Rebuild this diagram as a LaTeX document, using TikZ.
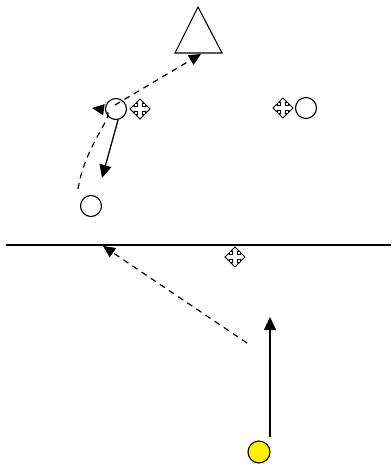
\documentclass[tikz,border=0pt]{standalone}
\usetikzlibrary{arrows.meta}
\tikzset{
  player/.style={draw, circle, line width=1.1pt, minimum size=21pt, inner sep=0pt, fill=white},
  ball/.style={draw, circle, line width=1.1pt, minimum size=22pt, inner sep=0pt, fill=yellow},
  run/.style={line width=1.3pt, -{Triangle[length=13pt,width=12pt]}},
  pass/.style={line width=1.2pt, dash pattern=on 6pt off 5pt, -{Triangle[length=12pt,width=11pt]}},
  moveicon/.pic={
    \draw[line width=0.9pt, fill=white, line join=miter, scale=1.25]
      (0,-8) -- (3.5,-4.5) -- (2,-4.5) -- (2,-2) -- (4.5,-2) -- (4.5,-3.5) -- (8,0)
      -- (4.5,3.5) -- (4.5,2) -- (2,2) -- (2,4.5) -- (3.5,4.5) -- (0,8)
      -- (-3.5,4.5) -- (-2,4.5) -- (-2,2) -- (-4.5,2) -- (-4.5,3.5) -- (-8,0)
      -- (-4.5,-3.5) -- (-4.5,-2) -- (-2,-2) -- (-2,-4.5) -- (-3.5,-4.5) -- cycle;
  }
}
\begin{document}
\begin{tikzpicture}[x=1pt, y=-1pt]
\useasboundingbox (0,0) rectangle (391,468);
% cone / triangle
\draw[line width=1.1pt, line join=miter] (198,7) -- (222,53) -- (175,53) -- cycle;
\coordinate (tribase) at (201,54);
% players
\node[player] (a) at (116,109) {};
\node[player] (b) at (306,108) {};
\node[player] (c) at (91,206) {};
\node[ball] (y) at (259,452) {};
% move markers
\pic at (140,109) {moveicon};
\pic at (283,108) {moveicon};
\pic at (235,257) {moveicon};
% line
\coordinate (l1) at (6,245);
\coordinate (l2) at (391,245);
\draw[line width=1.1pt] (l1) -- (l2);
% arrows
\coordinate (ys) at (270,437);
\coordinate (yt) at (270,317);
\draw[run] (ys) -- (yt);
\coordinate (ds) at (247,343);
\coordinate (dt) at (103,246);
\draw[pass] (ds) -- (dt);
\coordinate (as) at (115,105);
\draw[pass] (as) -- (tribase);
\coordinate (cs) at (78,189);
\coordinate (ct) at (92,108);
\draw[pass] (cs) .. controls (86,140) and (120,112) .. (ct);
\coordinate (at) at (102,178);
\draw[run] (a.south) ++(2,0) -- (at);
\end{tikzpicture}
\end{document}
